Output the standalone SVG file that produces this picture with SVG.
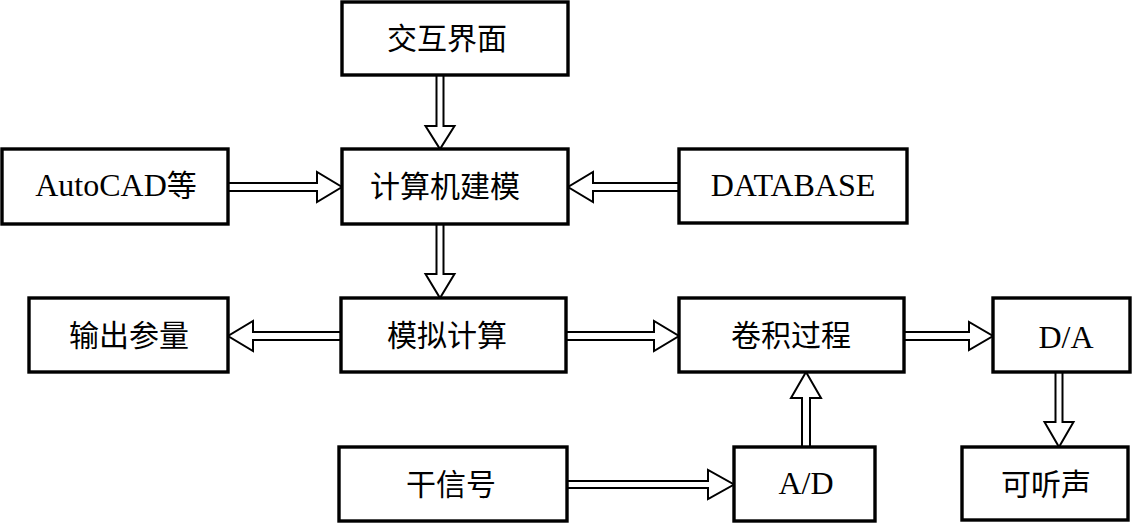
<svg xmlns="http://www.w3.org/2000/svg" width="1133" height="523" viewBox="0 0 1133 523">
<style>
.box{fill:#fff;stroke:#000;stroke-width:3.4}
.arr{fill:#fff;stroke:#000;stroke-width:2;stroke-linejoin:miter}
.t{font-family:"Liberation Serif","Noto Sans CJK SC",serif;font-size:30px;fill:#000;text-anchor:middle}
.l{font-size:32px}
.c{font-size:30px}
</style>
<rect width="1133" height="523" fill="#fff"/>
<g id="connectors">
<polygon class="arr" points="436.5,75 436.5,126 425.5,126 440,149 454.5,126 443.5,126 443.5,75"/>
<polygon class="arr" points="228,183 317,183 317,172 342,187 317,202 317,191 228,191"/>
<polygon class="arr" points="679,183 593,183 593,172 568,187 593,202 593,191 679,191"/>
<polygon class="arr" points="436.5,224 436.5,274 425.5,274 440,298 454.5,274 443.5,274 443.5,224"/>
<polygon class="arr" points="341,332 253,332 253,321 228,336 253,351 253,340 341,340"/>
<polygon class="arr" points="566,332 654,332 654,321 679,336 654,351 654,340 566,340"/>
<polygon class="arr" points="904,332 969,332 969,322 993,336 969,350 969,340 904,340"/>
<polygon class="arr" points="1055.5,372 1055.5,422 1044.5,422 1059,447 1073.5,422 1062.5,422 1062.5,372"/>
<polygon class="arr" points="567,481 708,481 708,470 734,484.5 708,499 708,488 567,488"/>
<polygon class="arr" points="802,447 802,398 791,398 806,372 821,398 810,398 810,447"/>
</g>
<g id="n_jiaohu"><rect class="box" x="342" y="2" width="226" height="73"/><text class="t" x="447" y="49">交互界面</text></g>
<g id="n_autocad"><rect class="box" x="2" y="149" width="226" height="75"/><text class="t l" x="116" y="196">AutoCAD<tspan class="c">等</tspan></text></g>
<g id="n_jianmo"><rect class="box" x="342" y="149" width="226" height="75"/><text class="t" x="445" y="197">计算机建模</text></g>
<g id="n_database"><rect class="box" x="679" y="149" width="228" height="74"/><text class="t l" x="793" y="196">DATABASE</text></g>
<g id="n_shuchu"><rect class="box" x="29" y="298" width="199" height="74"/><text class="t" x="129" y="346">输出参量</text></g>
<g id="n_moni"><rect class="box" x="341" y="298" width="225" height="74"/><text class="t" x="447" y="346">模拟计算</text></g>
<g id="n_juanji"><rect class="box" x="679" y="298" width="225" height="74"/><text class="t" x="791" y="346">卷积过程</text></g>
<g id="n_da"><rect class="box" x="993" y="298" width="137" height="74"/><text class="t l" x="1066" y="348">D/A</text></g>
<g id="n_ganxinhao"><rect class="box" x="339" y="447" width="228" height="74"/><text class="t" x="451" y="495">干信号</text></g>
<g id="n_ad"><rect class="box" x="734" y="447" width="141" height="74"/><text class="t l" x="806" y="494">A/D</text></g>
<g id="n_keting"><rect class="box" x="962" y="447" width="166" height="73"/><text class="t" x="1046" y="495">可听声</text></g>
</svg>
